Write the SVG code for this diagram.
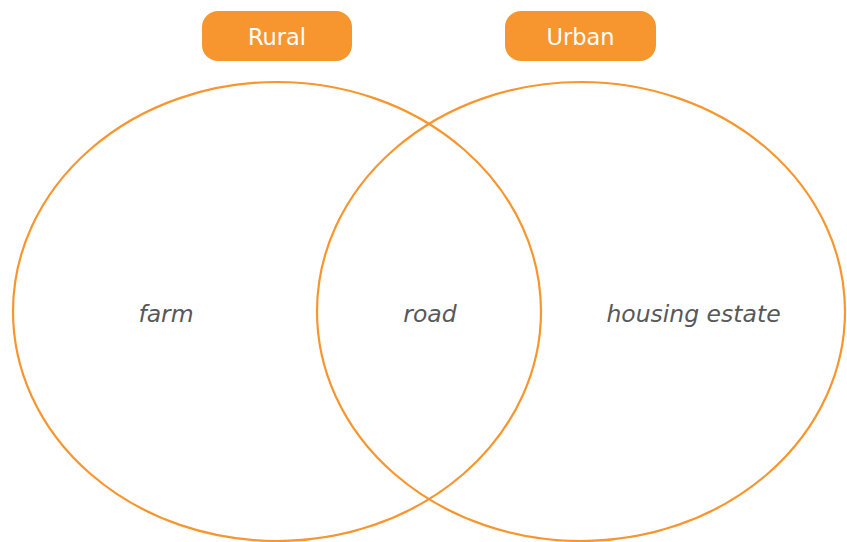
<svg xmlns="http://www.w3.org/2000/svg" width="847" height="542" viewBox="0 0 847 542">
<style>
.set{fill:none;stroke:#F7962F;stroke-width:2.2}
.hdr{fill:#F7962F}
.hdrt{font-family:"DejaVu Sans",sans-serif;font-size:22.5px;fill:#ffffff;text-anchor:middle}
.lbl{font-family:"DejaVu Sans",sans-serif;font-style:italic;font-size:23.5px;fill:#58585a;text-anchor:middle}
</style>
<rect width="847" height="542" fill="#ffffff"/>
<g id="connectors"></g>
<g id="rural-set"><ellipse class="set" cx="277" cy="311.5" rx="264" ry="229.5"/></g>
<g id="urban-set"><ellipse class="set" cx="581" cy="311.5" rx="264" ry="229.5"/></g>
<g id="rural-header"><rect class="hdr" x="202" y="11" width="150" height="50" rx="16"/><text class="hdrt" x="277" y="45">Rural</text></g>
<g id="urban-header"><rect class="hdr" x="505" y="11" width="151" height="50" rx="16"/><text class="hdrt" x="580.5" y="45">Urban</text></g>
<g id="farm"><text class="lbl" x="166" y="322">farm</text></g>
<g id="road"><text class="lbl" x="430" y="322">road</text></g>
<g id="housing-estate"><text class="lbl" x="693.5" y="322">housing estate</text></g>
</svg>
